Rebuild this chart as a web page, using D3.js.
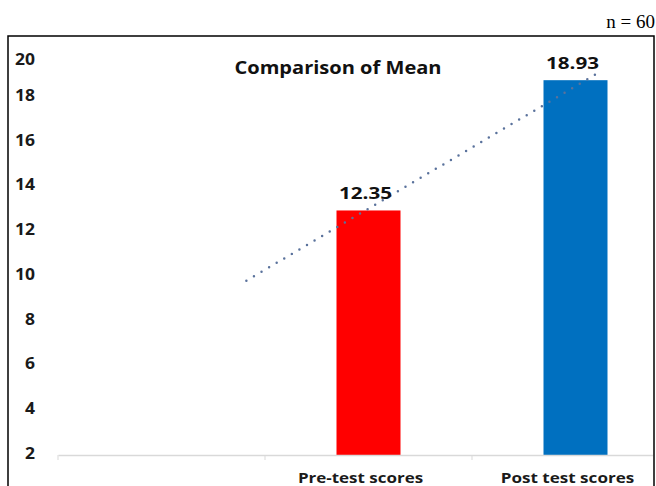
<!DOCTYPE html>
<html>
<head>
<meta charset="utf-8">
<script src="https://cdn.jsdelivr.net/npm/d3@7"></script>
<style>
  html, body { margin: 0; padding: 0; background: #fff; }
  svg { display: block; }
</style>
</head>
<body>
<svg id="chart" width="656" height="486"></svg>
<script>
// Group means (n = 60)
const categories = ["", "Pre-test scores", "Post test scores"];
const meanScores = [null, 12.35, 18.93];
const barColors = [null, "#ff0000", "#0070c0"];
const tickLabels = [2, 4, 6, 8, 10, 12, 14, 16, 18, 20];
// Linear trend drawn over the bars: offsets in category steps from the pre-test bar, and values
const trendOffsets = [-0.59, 1.11];
const trendValues = [8.8, 19.3];

const svg = d3.select("#chart");
const font = "'Open Sans', Lato, sans-serif";

// Framed box around the chart
const frame = { left: 8, top: 36, right: 654, bottom: 490 };
svg.append("rect")
  .attr("x", frame.left).attr("y", frame.top)
  .attr("width", frame.right - frame.left)
  .attr("height", frame.bottom - frame.top)
  .attr("fill", "none").attr("stroke", "#000").attr("stroke-width", 1.5);

svg.append("text")
  .attr("x", 655).attr("y", 28)
  .attr("text-anchor", "end")
  .attr("font-family", "'Liberation Serif', 'Times New Roman', serif")
  .attr("font-size", 19)
  .text("n = 60");

svg.append("defs").append("clipPath").attr("id", "plotClip")
  .append("rect").attr("x", frame.left).attr("y", frame.top)
  .attr("width", frame.right - frame.left - 1).attr("height", frame.bottom - frame.top);

const plot = svg.append("g").attr("clip-path", "url(#plotClip)");

const baseY = 455;
const x = d3.scaleBand().domain(categories).range([58, 679]).paddingInner(0).paddingOuter(0);
const y = d3.scaleLinear().domain([0, 20]).range([baseY, 59]);
// Tick label placement along the value axis
const yTicks = d3.scaleLinear().domain([2, 18, 20]).range([453, 95, 59]);

// Wide bold lettering, stretched to a set width
function stretched(sel, widthFn) {
  sel.attr("textLength", widthFn).attr("lengthAdjust", "spacingAndGlyphs");
}

// Value axis labels (no line)
svg.append("g").selectAll("text").data(tickLabels).join("text")
  .attr("x", 35).attr("y", d => yTicks(d))
  .attr("dy", "0.36em")
  .attr("text-anchor", "end")
  .attr("font-family", font).attr("font-weight", 700).attr("font-size", 16)
  .attr("fill", "#1a1a1a")
  .call(stretched, d => String(d).length * 10)
  .text(d => d);

// Bars
const barData = categories.map((c, i) => ({ c, v: meanScores[i], color: barColors[i] }))
  .filter(d => d.v !== null);
const barW = 64;
plot.selectAll("rect.bar").data(barData).join("rect")
  .attr("class", "bar")
  .attr("x", d => x(d.c) + x.bandwidth() / 2 - barW / 2)
  .attr("y", d => y(d.v))
  .attr("width", barW)
  .attr("height", d => baseY - y(d.v))
  .attr("fill", d => d.color);

// Category axis
const xAxis = plot.append("g").attr("transform", `translate(0,${baseY})`)
  .call(d3.axisBottom(x).tickSize(0).tickFormat(""));
xAxis.select(".domain").attr("stroke", "#d9d9d9").attr("stroke-width", 1.5);
const bounds = [...categories.map(c => x(c)), x.range()[1]];
xAxis.selectAll("line.sep").data(bounds).join("line")
  .attr("class", "sep")
  .attr("x1", d => d).attr("x2", d => d)
  .attr("y1", 0).attr("y2", 5)
  .attr("stroke", "#d9d9d9").attr("stroke-width", 1);

svg.append("g").selectAll("text").data(categories.filter(c => c)).join("text")
  .attr("x", d => x(d) + x.bandwidth() / 2 - 8)
  .attr("y", 483)
  .attr("text-anchor", "middle")
  .attr("font-family", font).attr("font-weight", 700).attr("font-size", 15)
  .attr("fill", "#1a1a1a")
  .call(stretched, d => d.length * 8.35)
  .text(d => d);

// Dotted linear trend
const refX = x(categories[1]) + x.bandwidth() / 2;
const step = x.step();
const trendPts = trendOffsets.map((o, i) => [refX + o * step, y(trendValues[i])]);
plot.append("path")
  .attr("d", d3.line()(trendPts))
  .attr("fill", "none")
  .attr("stroke", "#5a729c")
  .attr("stroke-width", 2.5)
  .attr("stroke-linecap", "round")
  .attr("stroke-dasharray", "0 8.8");

// Value labels
svg.append("g").selectAll("text").data(barData).join("text")
  .attr("x", d => x(d.c) + x.bandwidth() / 2 - 3)
  .attr("y", d => y(d.v) - 11)
  .attr("text-anchor", "middle")
  .attr("font-family", font).attr("font-weight", 700).attr("font-size", 16)
  .attr("fill", "#111")
  .call(stretched, 53)
  .text(d => d.v.toFixed(2));

// Title
svg.append("text")
  .attr("x", 338).attr("y", 74)
  .attr("text-anchor", "middle")
  .attr("font-family", font).attr("font-weight", 700).attr("font-size", 18)
  .attr("fill", "#111")
  .call(stretched, 207)
  .text("Comparison of Mean");
</script>
</body>
</html>
